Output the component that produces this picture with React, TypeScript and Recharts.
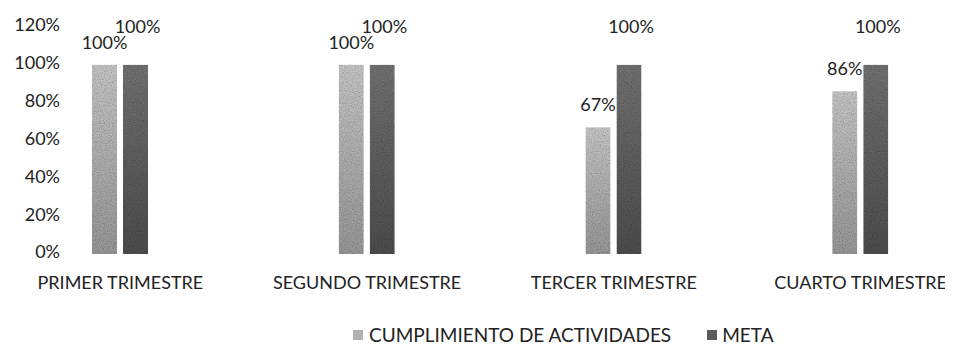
import React from "react";
import { BarChart, Bar, XAxis, YAxis, Legend, LabelList } from "recharts";

const categories = ["PRIMER TRIMESTRE", "SEGUNDO TRIMESTRE", "TERCER TRIMESTRE", "CUARTO TRIMESTRE"];
const cumplimiento = [1.0, 1.0, 0.67, 0.86];
const meta = [1.0, 1.0, 1.0, 1.0];
const yTicks = [0, 0.2, 0.4, 0.6, 0.8, 1.0, 1.2];
const seriesNames = ["CUMPLIMIENTO DE ACTIVIDADES", "META"];

const data = categories.map((c, i) => ({ name: c, cumplimiento: cumplimiento[i], meta: meta[i] }));

const FONT = "Lato, 'Open Sans', sans-serif";
const TEXT = "#222222";
const FS = 19;
const pct = (v: number) => `${Math.round(v * 100)}%`;

const makeLabel = (dx: number, above: number) => (props: any) => {
  const { x, y, width, value } = props;
  return (
    <text x={x + width / 2 + dx} y={y - above} textAnchor="middle" dominantBaseline="central"
      fontFamily={FONT} fontSize={18} fill={TEXT}>
      {pct(value)}
    </text>
  );
};

const LegendContent = () => (
  <div style={{ display: "flex", justifyContent: "flex-start", fontFamily: FONT, fontSize: FS, color: TEXT, height: 24, lineHeight: "24px" }}>
    <span style={{ display: "flex", alignItems: "center", marginRight: 36 }}>
      <span style={{ width: 10, height: 10, background: "#b0b0b0", display: "inline-block", marginRight: 6 }} />
      {seriesNames[0]}
    </span>
    <span style={{ display: "flex", alignItems: "center" }}>
      <span style={{ width: 10, height: 10, background: "#5c5c5c", display: "inline-block", marginRight: 5 }} />
      {seriesNames[1]}
    </span>
  </div>
);

export default function App() {
  return (
    <BarChart width={945} height={338} data={data} barSize={25} barGap={6}
      margin={{ top: 19, right: 0, left: 0, bottom: 38 }}>
      <defs>
        <linearGradient id="lightG" x1="0" y1="0" x2="0" y2="1">
          <stop offset="0%" stopColor="#d4d4d4" />
          <stop offset="100%" stopColor="#a2a2a2" />
        </linearGradient>
        <linearGradient id="darkG" x1="0" y1="0" x2="0" y2="1">
          <stop offset="0%" stopColor="#7a7a7a" />
          <stop offset="100%" stopColor="#535353" />
        </linearGradient>
        <filter id="grain" x="0" y="0" width="100%" height="100%">
          <feTurbulence type="fractalNoise" baseFrequency="0.9" numOctaves="2" seed="3" result="noise" />
          <feColorMatrix in="noise" type="saturate" values="0" result="gray" />
          <feBlend in="SourceGraphic" in2="gray" mode="multiply" result="blend" />
          <feComposite in="blend" in2="SourceGraphic" operator="in" />
        </filter>
      </defs>
      <XAxis dataKey="name" axisLine={false} tickLine={false} tickSize={0} tickMargin={22} interval={0}
        padding={{ left: -65, right: -31 }}
        tick={{ fontFamily: FONT, fontSize: 18, fill: TEXT }} height={30} />
      <YAxis domain={[0, 1.2]} ticks={yTicks} tickFormatter={pct} axisLine={false} tickLine={false}
        tickSize={0} width={54} tickMargin={2} tick={{ fontFamily: FONT, fontSize: 18, fill: TEXT, dy: -2 }} />
      <Legend content={<LegendContent />} wrapperStyle={{ left: 345, width: 600, top: 315, height: 24 }} />
      <Bar dataKey="cumplimiento" name={seriesNames[0]} fill="url(#lightG)" filter="url(#grain)" isAnimationActive={false}>
        <LabelList dataKey="cumplimiento" content={makeLabel(0, 23)} />
      </Bar>
      <Bar dataKey="meta" name={seriesNames[1]} fill="url(#darkG)" filter="url(#grain)" isAnimationActive={false}>
        <LabelList dataKey="meta" content={makeLabel(2, 39)} />
      </Bar>
    </BarChart>
  );
}
